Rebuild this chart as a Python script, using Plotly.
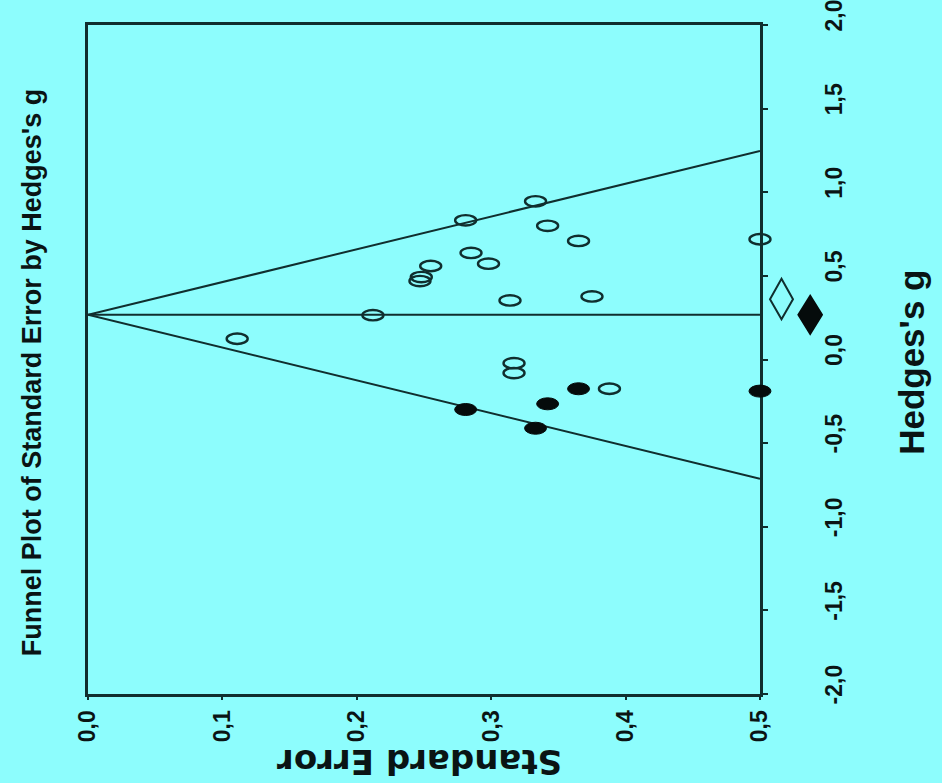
import plotly.graph_objects as go

# Observed studies: standard error and Hedges's g
se_observed = [0.111, 0.212, 0.247, 0.248, 0.255, 0.281, 0.285, 0.298, 0.314,
               0.317, 0.317, 0.333, 0.342, 0.365, 0.375, 0.388, 0.500]
g_observed = [0.124, 0.265, 0.469, 0.493, 0.559, 0.832, 0.637, 0.573, 0.353,
              -0.022, -0.081, 0.946, 0.799, 0.709, 0.377, -0.175, 0.719]

# Imputed studies (trim and fill)
se_imputed = [0.281, 0.333, 0.342, 0.365, 0.500]
g_imputed = [-0.299, -0.411, -0.265, -0.175, -0.189]

# Summary effects: lower CI, point estimate, upper CI
summary_observed = [0.240, 0.360, 0.483]
summary_adjusted = [0.153, 0.267, 0.381]

se_ticks = [0.0, 0.1, 0.2, 0.3, 0.4, 0.5]
g_ticks = [-2.0, -1.5, -1.0, -0.5, 0.0, 0.5, 1.0, 1.5, 2.0]

SE_MAX = 0.5
Z = 1.96
FRAME_DOMAIN = 0.918   # share of the plotting width used by the framed panel

BG = "#8dfdfd"
INK = "#102e2e"
TXT = "#0a1414"
SANS = "Liberation Sans, Arial, sans-serif"

def comma(v):
    return f"{v:.1f}".replace(".", ",")

fig = go.Figure()

# Funnel: pseudo 95% limits around the adjusted estimate, plus the estimate line
center = summary_adjusted[1]
fig.add_trace(go.Scatter(
    x=[SE_MAX, 0, SE_MAX],
    y=[center + Z * SE_MAX, center, center - Z * SE_MAX],
    mode="lines", line=dict(color=INK, width=2), hoverinfo="skip", showlegend=False))
fig.add_trace(go.Scatter(
    x=[0, SE_MAX], y=[center, center],
    mode="lines", line=dict(color=INK, width=2), hoverinfo="skip", showlegend=False))

# Hover carriers for the studies on the wide companion axis (x2)
fig.add_trace(go.Scatter(x=se_observed, y=g_observed, xaxis="x2", yaxis="y",
                         mode="markers", marker=dict(size=14, opacity=0),
                         name="Observed", showlegend=False))
fig.add_trace(go.Scatter(x=se_imputed, y=g_imputed, xaxis="x2", yaxis="y",
                         mode="markers", marker=dict(size=14, opacity=0),
                         name="Imputed", showlegend=False))

shapes = []
# Study markers as small ellipses anchored on the data values
for se, g in zip(se_observed, g_observed):
    shapes.append(dict(type="circle", xref="x2", yref="y",
                       xsizemode="pixel", ysizemode="pixel",
                       xanchor=se, yanchor=g, x0=-10.5, x1=10.5, y0=-5.2, y1=5.2,
                       line=dict(color=INK, width=2.4), fillcolor="rgba(0,0,0,0)"))
for se, g in zip(se_imputed, g_imputed):
    shapes.append(dict(type="circle", xref="x2", yref="y",
                       xsizemode="pixel", ysizemode="pixel",
                       xanchor=se, yanchor=g, x0=-11, x1=11, y0=-6, y1=6,
                       line=dict(color="#050b0b", width=1), fillcolor="#050b0b"))

# Summary diamonds beside the axis
def diamond(ci, xl, xr, filled):
    lo, mid, hi = ci
    xc = (xl + xr) / 2
    path = f"M {xc},{hi} L {xr},{mid} L {xc},{lo} L {xl},{mid} Z"
    return dict(type="path", xref="paper", yref="y", path=path,
                line=dict(color="#050b0b" if filled else INK, width=2),
                fillcolor="#050b0b" if filled else "rgba(0,0,0,0)")

shapes.append(diamond(summary_observed, 0.9317, 0.9631, False))
shapes.append(diamond(summary_adjusted, 0.9705, 1.0027, True))

tickfont = dict(family=SANS, size=23, color=TXT, weight="bold")

fig.update_layout(
    width=942, height=783,
    margin=dict(l=88, r=122, t=25, b=89, autoexpand=False),
    paper_bgcolor=BG, plot_bgcolor="rgba(0,0,0,0)",
    shapes=shapes,
    showlegend=False,
    xaxis=dict(
        domain=[0, FRAME_DOMAIN], anchor="y", automargin=False,
        range=[0, SE_MAX], tickvals=se_ticks, ticktext=[comma(v) for v in se_ticks],
        tickangle=-90, showgrid=False, zeroline=False,
        showline=True, mirror=True, linecolor=INK, linewidth=3,
        ticks="outside", ticklen=3, tickwidth=2, tickcolor=INK,
        ticklabelstandoff=1, tickfont=tickfont,
    ),
    xaxis2=dict(
        domain=[0, 1], anchor="y",
        range=[0, SE_MAX / FRAME_DOMAIN], visible=False,
    ),
    yaxis=dict(
        anchor="x", side="right", domain=[0, 1], automargin=False,
        range=[-2, 2], tickvals=g_ticks, ticktext=[comma(v) for v in g_ticks],
        tickangle=-90, showgrid=False, zeroline=False,
        showline=True, mirror=True, linecolor=INK, linewidth=3,
        ticks="outside", ticklen=5, tickwidth=2, tickcolor=INK,
        ticklabelstandoff=46, ticklabelshift=-6, ticklabeloverflow="allow",
        tickfont=tickfont,
    ),
    annotations=[
        dict(text="Funnel Plot of Standard Error by Hedges's g",
             xref="paper", yref="paper", x=-0.0765, y=0.481,
             xanchor="center", yanchor="middle", textangle=-90, showarrow=False,
             font=dict(family=SANS, size=27, color=TXT, weight="bold")),
        dict(text="Hedges's g",
             xref="paper", yref="paper", x=1.1257, y=0.495,
             xanchor="center", yanchor="middle", textangle=-90, showarrow=False,
             font=dict(family=SANS, size=35, color=TXT, weight="bold")),
        dict(text="Standard Error",
             xref="paper", yref="paper", x=0.4536, y=-0.1016,
             xanchor="center", yanchor="middle", textangle=180, showarrow=False,
             font=dict(family="DejaVu Sans, sans-serif", size=34, color=TXT, weight="bold")),
    ],
)

fig.write_html("out.html")
